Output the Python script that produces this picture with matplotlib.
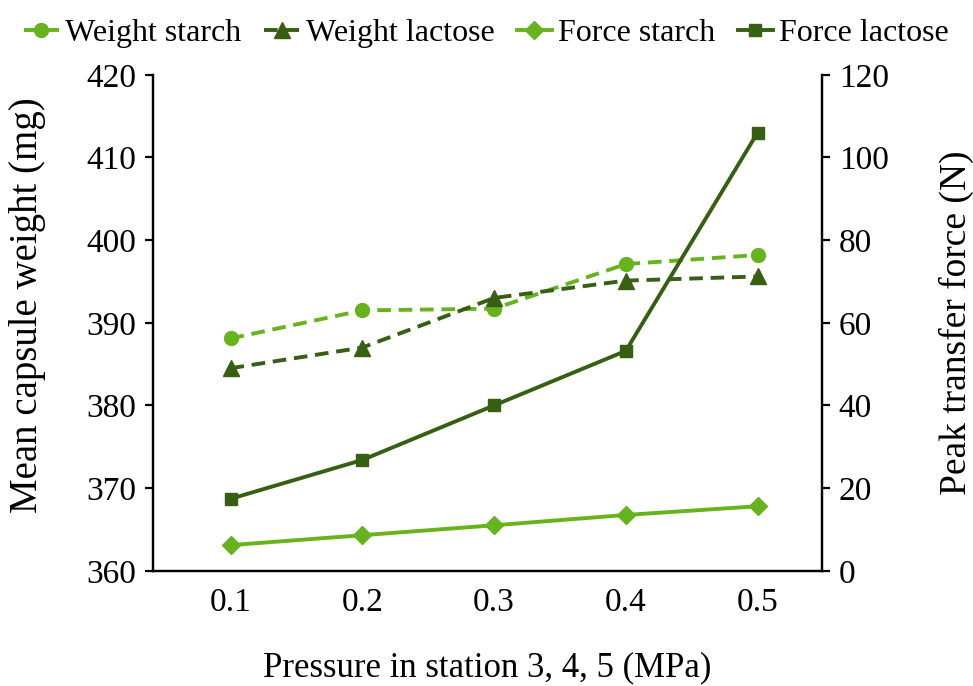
import numpy as np
import matplotlib.pyplot as plt

plt.rcParams['font.family'] = ['Liberation Serif', 'DejaVu Serif']

pressure = ['0.1', '0.2', '0.3', '0.4', '0.5']
weight_starch = [388.1, 391.5, 391.7, 397.1, 398.2]
weight_lactose = [384.5, 387.0, 393.0, 395.1, 395.6]
force_starch = [6.2, 8.6, 11.0, 13.5, 15.6]
force_lactose = [17.4, 26.8, 40.0, 53.2, 106.0]

light = '#66B31E'
dark = '#375F12'

fig = plt.figure(figsize=(9.73, 6.86), dpi=100)
ax = fig.add_axes([0.157, 0.168, 0.688, 0.723])
ax2 = ax.twinx()
x = np.arange(len(pressure))

l1, = ax.plot(x, weight_starch, color=light, lw=2.8, ls=(0, (3.5, 2)), marker='o', ms=10, label='Weight starch')
l2, = ax.plot(x, weight_lactose, color=dark, lw=2.8, ls=(0, (3.5, 2)), marker='^', ms=11, label='Weight lactose')
l3, = ax2.plot(x, force_starch, color=light, lw=2.8, marker='D', ms=9, label='Force starch')
l4, = ax2.plot(x, force_lactose, color=dark, lw=2.8, marker='s', ms=9, label='Force lactose')

ax.set_xlim(-0.59, 4.49)
ax.set_ylim(360, 420)
ax2.set_ylim(0, 120)
ax.set_yticks(np.arange(360, 421, 10))
ax2.set_yticks(np.arange(0, 121, 20))
ax.set_xticks(x)
ax.set_xticklabels(pressure)

for a in (ax, ax2):
    a.spines['top'].set_visible(False)
    for s in a.spines.values():
        s.set_linewidth(1.6)
    a.tick_params(axis='both', labelsize=24, width=1.6, length=6, direction='out')
ax.tick_params(axis='x', length=0, pad=12)
ax.tick_params(axis='y', pad=6)
ax2.tick_params(axis='y', pad=6)

ax.set_ylabel('Mean capsule weight (mg)', fontsize=28)
ax.yaxis.set_label_coords(-0.16, 0.536)
ax2.set_ylabel('Peak transfer force (N)', fontsize=27, labelpad=36)
ax.set_xlabel('Pressure in station 3, 4, 5 (MPa)', fontsize=25, labelpad=24)

fig.legend(handles=[l1, l2, l3, l4], loc='upper center', bbox_to_anchor=(0.5, 1.015), ncol=4,
           frameon=False, fontsize=23, handlelength=1.1, handletextpad=0.2, columnspacing=0.7)

fig.savefig('out.png', dpi=100)
